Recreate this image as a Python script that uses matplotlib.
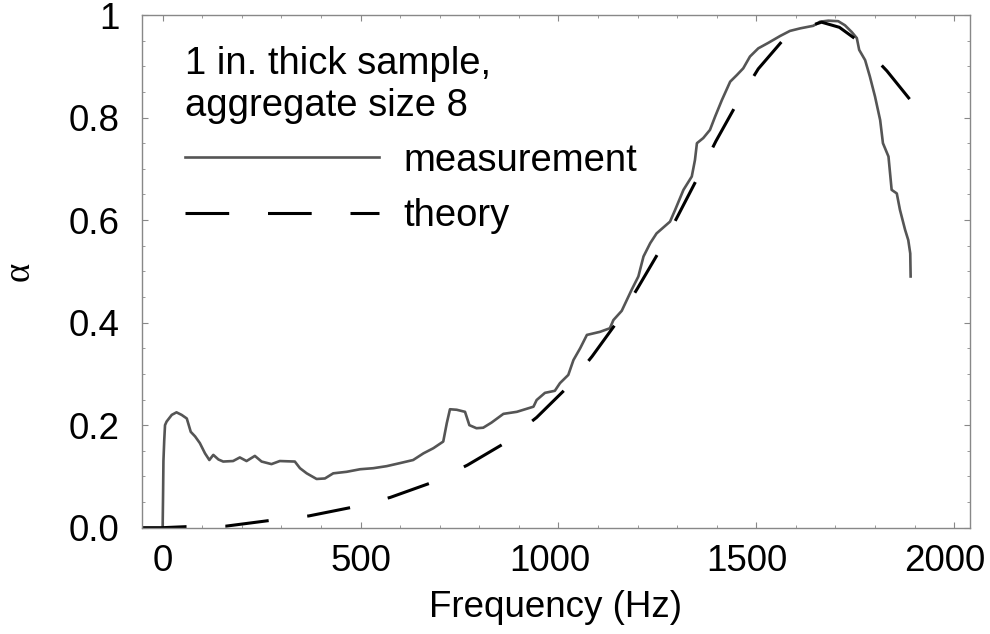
import numpy as np
import matplotlib.pyplot as plt
from matplotlib.ticker import MultipleLocator, FixedLocator, FixedFormatter
from matplotlib.transforms import ScaledTranslation

plt.rcParams['font.family'] = ['Liberation Sans', 'DejaVu Sans']

meas_f = [0, 1, 2, 4, 6, 10, 23, 35, 48, 61, 71, 82, 94, 107, 118, 128, 141, 153,
          178, 195, 212, 233, 250, 275, 296, 334, 347, 364, 389, 410, 431, 465,
          499, 532, 566, 600, 633, 659, 684, 709, 718, 726, 743, 764, 775, 793,
          810, 831, 861, 895, 937, 945, 966, 991, 1004, 1025, 1038, 1055, 1072,
          1105, 1130, 1139, 1160, 1185, 1202, 1215, 1232, 1248, 1282, 1295, 1316,
          1337, 1345, 1350, 1366, 1383, 1396, 1413, 1434, 1451, 1467, 1484, 1505,
          1531, 1560, 1585, 1611, 1644, 1661, 1682, 1707, 1724, 1741, 1754, 1760,
          1775, 1787, 1800, 1813, 1820, 1834, 1842, 1855, 1863, 1876, 1884, 1889,
          1890]
meas_a = [0.0, 0.06, 0.13, 0.17, 0.2, 0.207, 0.22, 0.225, 0.22, 0.213, 0.187,
          0.178, 0.165, 0.145, 0.132, 0.142, 0.133, 0.129, 0.13, 0.137, 0.13,
          0.14, 0.129, 0.124, 0.13, 0.129, 0.116, 0.106, 0.095, 0.096, 0.106,
          0.109, 0.114, 0.116, 0.12, 0.126, 0.132, 0.145, 0.155, 0.168, 0.204,
          0.231, 0.23, 0.226, 0.2, 0.194, 0.195, 0.205, 0.222, 0.226, 0.236,
          0.249, 0.263, 0.267, 0.282, 0.298, 0.327, 0.35, 0.376, 0.382, 0.389,
          0.405, 0.423, 0.464, 0.49, 0.529, 0.555, 0.574, 0.597, 0.62, 0.659,
          0.685, 0.717, 0.75, 0.76, 0.776, 0.802, 0.834, 0.87, 0.883, 0.896,
          0.919, 0.935, 0.946, 0.959, 0.969, 0.974, 0.979, 0.987, 0.989, 0.988,
          0.98, 0.967, 0.955, 0.932, 0.912, 0.88, 0.841, 0.795, 0.75, 0.724,
          0.659, 0.652, 0.62, 0.581, 0.561, 0.535, 0.49]

# theory curve
theo_f = [-50, 0, 60, 160, 270, 370, 480, 575, 680, 770, 860, 945, 1020, 1085,
          1147, 1200, 1254, 1303, 1352, 1398, 1450, 1505, 1573, 1620, 1665, 1710,
          1760, 1830, 1900]
theo_a = [0.0, 0.0, 0.002, 0.003, 0.014, 0.023, 0.04, 0.059, 0.088, 0.122, 0.163,
          0.215, 0.272, 0.334, 0.4, 0.467, 0.538, 0.61, 0.683, 0.754, 0.826, 0.895,
          0.956, 0.975, 0.986, 0.976, 0.948, 0.891, 0.824]

xtick_vals = [0, 500, 1000, 1500, 2000]
ytick_vals = [0.0, 0.2, 0.4, 0.6, 0.8, 1.0]
ytick_labels = ['0.0', '0.2', '0.4', '0.6', '0.8', '1']

fs = 26.5
fs_leg = 27.5
fig = plt.figure(figsize=(9.9, 6.34), dpi=100)
ax = fig.add_axes([0.1431, 0.1677, 0.8367, 0.8086])

ax.plot(meas_f, meas_a, color='#555555', lw=1.9, label='measurement')
ax.plot(theo_f, theo_a, color='black', lw=2.2, dashes=(14.3, 12.7),
        label='theory', dash_capstyle='butt')

ax.set_xlim(-53, 2040)
ax.set_ylim(0, 1)
ax.xaxis.set_major_locator(FixedLocator(xtick_vals))
ax.xaxis.set_minor_locator(MultipleLocator(100))
ax.yaxis.set_major_locator(FixedLocator(ytick_vals))
ax.yaxis.set_major_formatter(FixedFormatter(ytick_labels))
ax.yaxis.set_minor_locator(MultipleLocator(0.05))

for s in ax.spines.values():
    s.set_color('#888888')
    s.set_linewidth(1.0)
ax.tick_params(which='both', direction='in', top=True, right=True,
               color='#888888', labelsize=fs)
ax.tick_params(which='major', length=4.5, width=0.8)
ax.tick_params(which='minor', length=2.5, width=0.6)
ax.tick_params(axis='x', pad=12)
ax.tick_params(axis='y', pad=16)

ax.set_xlabel('Frequency (Hz)', fontsize=fs, labelpad=8)
ax.set_ylabel('α', fontsize=fs, family=['Liberation Serif', 'DejaVu Serif'],
              labelpad=23)

leg = ax.legend(loc='upper left', bbox_to_anchor=(0.0246, 0.984),
                frameon=False, fontsize=fs_leg,
                title='1 in. thick sample,\naggregate size 8',
                title_fontsize=fs_leg, alignment='left',
                handlelength=5.08, handletextpad=0.65, labelspacing=0.5,
                borderaxespad=0, borderpad=0.6)

# the wide x labels sit a little left of their ticks in the original
fig.canvas.draw()
shift = ScaledTranslation(-9 / 100, 0, fig.dpi_scale_trans)
for t in ax.xaxis.get_major_ticks():
    if len(t.label1.get_text()) == 4:
        t.label1.set_transform(t.label1.get_transform() + shift)

fig.savefig('out.png', dpi=100)
